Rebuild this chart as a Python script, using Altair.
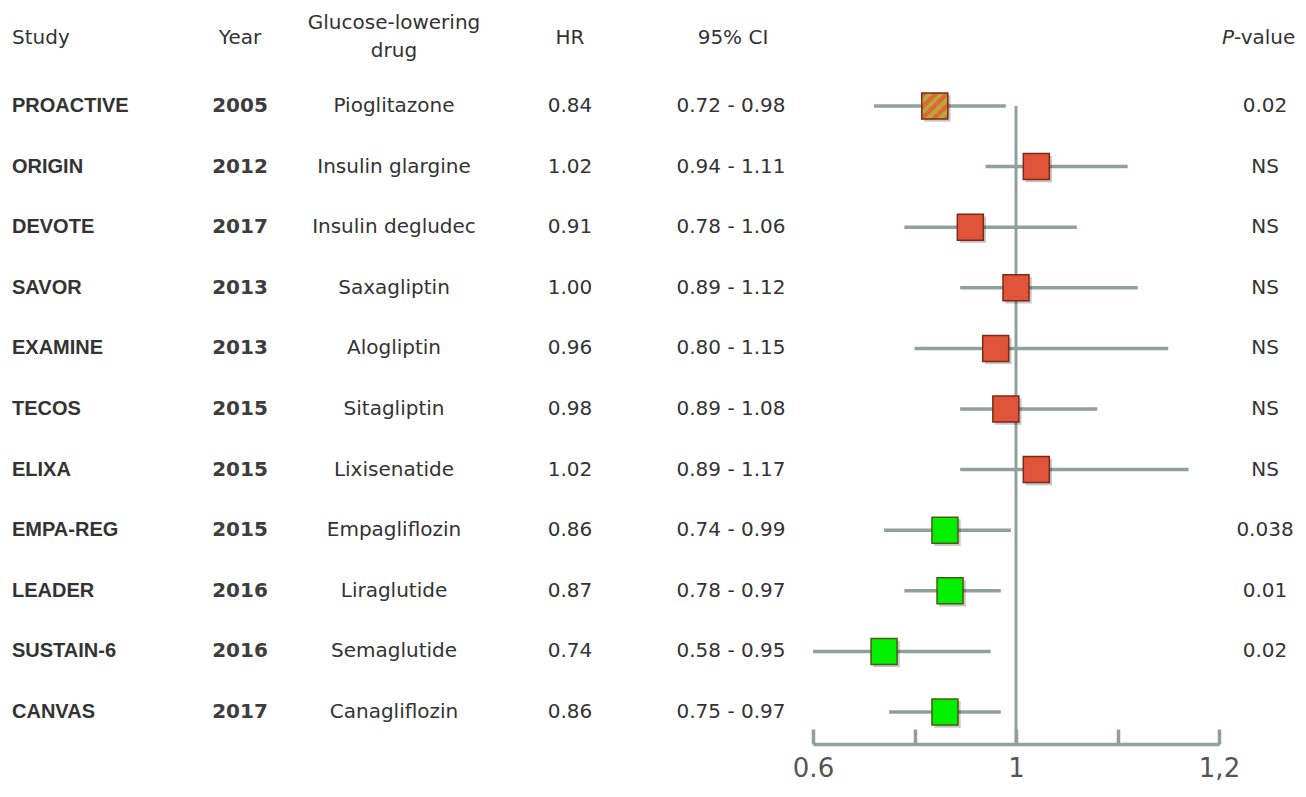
import altair as alt
import pandas as pd

# ---------------- data ----------------
studies = ["PROACTIVE", "ORIGIN", "DEVOTE", "SAVOR", "EXAMINE", "TECOS",
           "ELIXA", "EMPA-REG", "LEADER", "SUSTAIN-6", "CANVAS"]
years = ["2005", "2012", "2017", "2013", "2013", "2015", "2015", "2015",
         "2016", "2016", "2017"]
drugs = ["Pioglitazone", "Insulin glargine", "Insulin degludec", "Saxagliptin",
         "Alogliptin", "Sitagliptin", "Lixisenatide", "Empagliflozin",
         "Liraglutide", "Semaglutide", "Canagliflozin"]
hr = [0.84, 1.02, 0.91, 1.00, 0.96, 0.98, 1.02, 0.86, 0.87, 0.74, 0.86]
ci_lo = [0.72, 0.94, 0.78, 0.89, 0.80, 0.89, 0.89, 0.74, 0.78, 0.58, 0.75]
ci_hi = [0.98, 1.11, 1.06, 1.12, 1.15, 1.08, 1.17, 0.99, 0.97, 0.95, 0.97]
p_values = ["0.02", "NS", "NS", "NS", "NS", "NS", "NS", "0.038", "0.01", "0.02", ""]
groups = ["hatched", "neutral", "neutral", "neutral", "neutral", "neutral",
          "neutral", "benefit", "benefit", "benefit", "benefit"]

axis_ticks = [0.6, 0.8, 1.0, 1.1, 1.2]
axis_labels = [0.6, 1.0, 1.2]

df = pd.DataFrame({
    "study": studies,
    "year": years,
    "drug": drugs,
    "hr": hr,
    "lo": ci_lo,
    "hi": ci_hi,
    "hr_txt": [f"{v:.2f}" for v in hr],
    "ci_txt": [f"{a:.2f} - {b:.2f}" for a, b in zip(ci_lo, ci_hi)],
    "p": p_values,
    "grp": groups,
})

# ---------------- layout ----------------
W = 1290
H = 736
LINE = "#8fa199"
TXT = "#333333"

xscale = alt.Scale(domain=[0.6, 1.0, 1.2], range=[805, 1008, 1211],
                   clamp=True, nice=False, zero=False)
yscale = alt.Scale(type="point", domain=studies, range=[98, 704], padding=0)
Y = alt.Y("study:N", scale=yscale, axis=None)

base = alt.Chart(df)

# reference line at HR = 1
vline = alt.Chart(pd.DataFrame({"v": [1.0], "top": [studies[0]]})).mark_rule(
    color=LINE, strokeWidth=3
).encode(
    x=alt.X("v:Q", scale=xscale, axis=None),
    y=alt.Y("top:N", scale=yscale, axis=None),
    y2=alt.value(H),
)

# CI lines + bottom axis labels
ci = base.mark_rule(color=LINE, strokeWidth=3.5).encode(
    x=alt.X("lo:Q", scale=xscale, title=None,
            axis=alt.Axis(orient="bottom", values=axis_labels,
                          labelExpr="datum.value == 1.2 ? '1,2' : (datum.value == 1 ? '1' : '0.6')",
                          ticks=False, tickSize=0, domain=False, grid=False,
                          labelFont="DejaVu Sans", labelFontSize=26,
                          labelColor="#555555", labelPadding=11,
                          labelOverlap=False, labelFlush=False)),
    x2="hi:Q",
    y=Y,
)

# drop shadow under markers
shadow = base.mark_square(size=700, color="#000000", opacity=0.22,
                          xOffset=2.5, yOffset=2.5).encode(
    x=alt.X("hr:Q", scale=xscale, axis=None),
    y=Y,
)

# markers + upward-tick axis line
markers = base.transform_filter("datum.grp != 'hatched'").mark_square(
    size=676, strokeWidth=1.5, opacity=1
).encode(
    x=alt.X("hr:Q", scale=xscale, title=None,
            axis=alt.Axis(orient="top", offset=-H, values=axis_ticks,
                          labels=False, ticks=True, tickSize=15,
                          tickWidth=3.5, tickColor=LINE, domain=True,
                          domainColor=LINE, domainWidth=3.5, grid=False)),
    y=Y,
    fill=alt.Fill("grp:N", legend=None,
                  scale=alt.Scale(domain=["neutral", "benefit"],
                                  range=["#e0553a", "#00f000"])),
    stroke=alt.Stroke("grp:N", legend=None,
                      scale=alt.Scale(domain=["neutral", "benefit"],
                                      range=["#7c2a16", "#4d5a14"])),
)

# hatched marker (PROACTIVE)
n = 9
stops = []
for k in range(n):
    col = "#e0683a" if k % 2 == 0 else "#b8a838"
    stops.append(alt.GradientStop(offset=k / n, color=col))
    stops.append(alt.GradientStop(offset=(k + 1) / n, color=col))
hatched = base.transform_filter("datum.grp == 'hatched'").mark_square(
    size=676, strokeWidth=1.5, stroke="#7c2a16", opacity=1,
    fill=alt.LinearGradient(gradient="linear", stops=stops,
                            x1=0, y1=0, x2=1, y2=1),
).encode(
    x=alt.X("hr:Q", scale=xscale, axis=None),
    y=Y,
)

# text columns
study_txt = base.mark_text(align="left", baseline="middle", font="Liberation Sans",
                           fontSize=20, fontWeight="bold", color=TXT).encode(
    x=alt.value(4), y=Y, text="study:N")
year_txt = base.mark_text(align="center", baseline="middle", font="DejaVu Sans",
                          fontSize=20, fontWeight="bold", color="#3d3d3d").encode(
    x=alt.value(232), y=Y, text="year:N")
drug_txt = base.mark_text(align="center", baseline="middle", font="DejaVu Sans",
                          fontSize=20, color=TXT).encode(
    x=alt.value(386), y=Y, text="drug:N")
hr_txt = base.mark_text(align="center", baseline="middle", font="DejaVu Sans",
                        fontSize=20, color=TXT).encode(
    x=alt.value(562), y=Y, text="hr_txt:N")
ci_txt = base.mark_text(align="center", baseline="middle", font="DejaVu Sans",
                        fontSize=20, color=TXT).encode(
    x=alt.value(723), y=Y, text="ci_txt:N")
p_txt = base.mark_text(align="center", baseline="middle", font="DejaVu Sans",
                       fontSize=20, color=TXT).encode(
    x=alt.value(1257), y=Y, text="p:N")

# headers
hdr = pd.DataFrame({"t": ["x"]})
def header(text, x, align="center", style="normal", y=30):
    return alt.Chart(hdr).mark_text(
        text=text, align=align, baseline="middle", font="DejaVu Sans",
        fontSize=20, color=TXT, fontStyle=style, lineHeight=28
    ).encode(x=alt.value(x), y=alt.value(y))

headers = [
    header("Study", 4, align="left"),
    header("Year", 232),
    header(["Glucose-lowering", "drug"], 386, y=15),
    header("HR", 562),
    header("95% CI", 725),
    header("P", 1226, align="right", style="italic"),
    header("-value", 1226, align="left"),
]

chart = alt.layer(
    vline, ci, shadow, markers, hatched,
    study_txt, year_txt, drug_txt, hr_txt, ci_txt, p_txt,
    *headers
).resolve_axis(x="independent").properties(
    width=W, height=H, padding=0
).configure_view(stroke=None)

chart.save("out.html", embed_options={"renderer": "svg", "actions": False})
